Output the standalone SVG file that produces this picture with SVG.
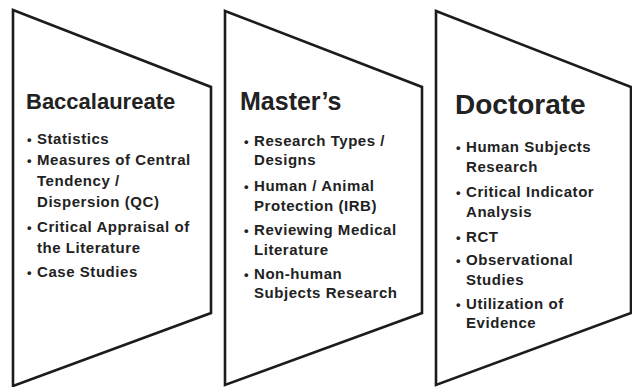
<svg xmlns="http://www.w3.org/2000/svg" width="632" height="387" viewBox="0 0 632 387">
<style>
.shape{fill:#fff;stroke:#1c1c1c;stroke-width:2.6;stroke-linejoin:miter}
.title{font-family:"Liberation Sans",Arial,sans-serif;font-weight:bold;fill:#222}
.item{font-family:"Liberation Sans",Arial,sans-serif;font-weight:bold;font-size:15px;fill:#222;letter-spacing:0.55px}
.dot{font-family:"Liberation Sans",Arial,sans-serif;font-weight:bold;font-size:13px;fill:#222}
</style>
<rect width="632" height="387" fill="#fff"/>
<g id="connectors"/>
<g id="baccalaureate">
<polygon class="shape" points="13,10 211,87 211,313 13,386"/>
<text class="title" x="26" y="109" font-size="22">Baccalaureate</text>
<text class="dot">
<tspan x="27" y="144">•</tspan><tspan x="27" y="165">•</tspan><tspan x="27" y="232">•</tspan><tspan x="27" y="277">•</tspan>
</text>
<text class="item">
<tspan x="37" y="144">Statistics</tspan>
<tspan x="37" y="165">Measures of Central</tspan>
<tspan x="37" y="186">Tendency /</tspan>
<tspan x="37" y="207">Dispersion (QC)</tspan>
<tspan x="37" y="232">Critical Appraisal of</tspan>
<tspan x="37" y="253">the Literature</tspan>
<tspan x="37" y="277">Case Studies</tspan>
</text>
</g>
<g id="masters">
<polygon class="shape" points="225,11 422,87 422,313 225,385"/>
<text class="title" x="240" y="110" font-size="25">Master’s</text>
<text class="dot">
<tspan x="244" y="146">•</tspan><tspan x="244" y="191">•</tspan><tspan x="244" y="235">•</tspan><tspan x="244" y="279">•</tspan>
</text>
<text class="item">
<tspan x="254" y="146">Research Types /</tspan>
<tspan x="254" y="165">Designs</tspan>
<tspan x="254" y="191">Human / Animal</tspan>
<tspan x="254" y="211">Protection (IRB)</tspan>
<tspan x="254" y="235">Reviewing Medical</tspan>
<tspan x="254" y="255">Literature</tspan>
<tspan x="254" y="279">Non-human</tspan>
<tspan x="254" y="298">Subjects Research</tspan>
</text>
</g>
<g id="doctorate">
<polygon class="shape" points="436,11 631,87 631,313 436,385"/>
<text class="title" x="455" y="114" font-size="28">Doctorate</text>
<text class="dot">
<tspan x="456" y="152">•</tspan><tspan x="456" y="197">•</tspan><tspan x="456" y="242">•</tspan><tspan x="456" y="265">•</tspan><tspan x="456" y="309">•</tspan>
</text>
<text class="item">
<tspan x="466" y="152">Human Subjects</tspan>
<tspan x="466" y="172">Research</tspan>
<tspan x="466" y="197">Critical Indicator</tspan>
<tspan x="466" y="217">Analysis</tspan>
<tspan x="466" y="242">RCT</tspan>
<tspan x="466" y="265">Observational</tspan>
<tspan x="466" y="285">Studies</tspan>
<tspan x="466" y="309">Utilization of</tspan>
<tspan x="466" y="328">Evidence</tspan>
</text>
</g>
</svg>
